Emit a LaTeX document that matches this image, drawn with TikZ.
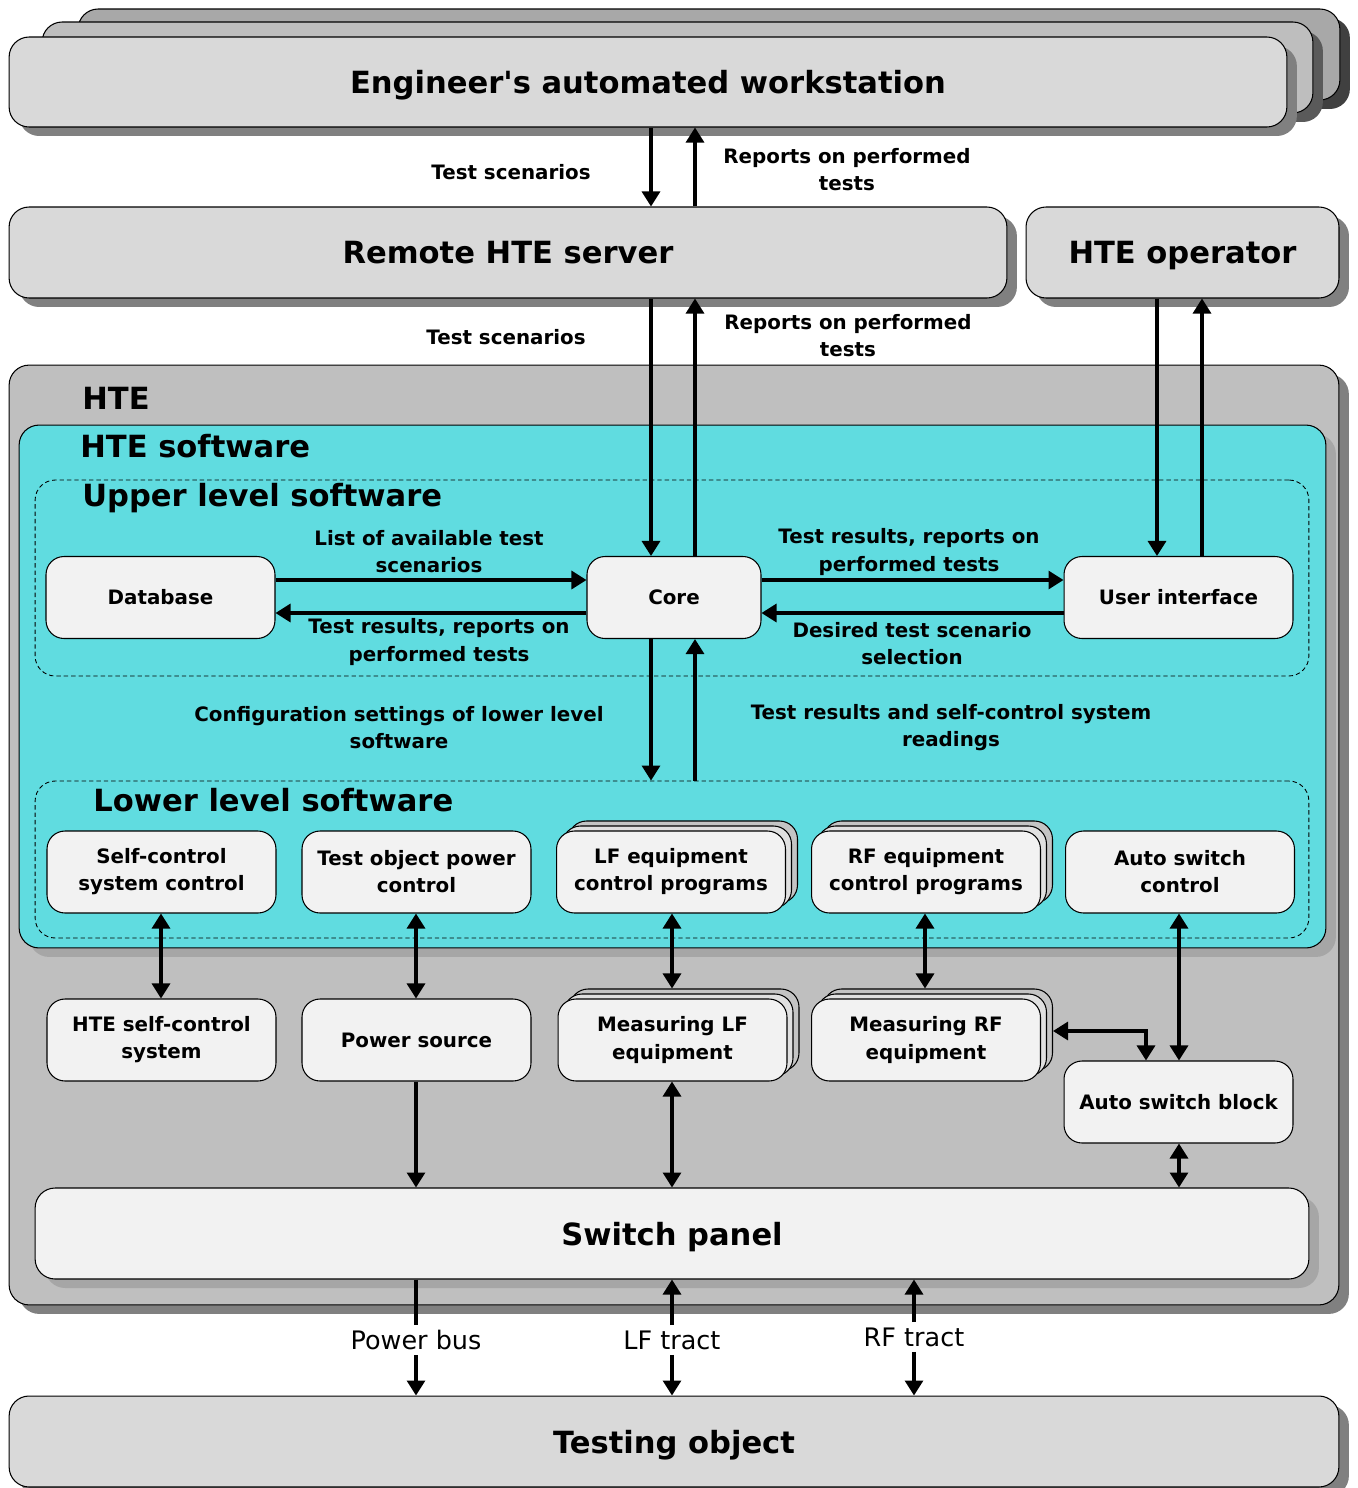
\documentclass[tikz,border=0pt]{standalone}
\usepackage{fontspec}
\setmainfont{DejaVu Sans}
\newfontfamily\plainfont{DejaVu Sans}
\usetikzlibrary{arrows.meta,shadows}

\definecolor{boxgray}{RGB}{217,217,217}
\definecolor{layerA}{RGB}{190,190,190}
\definecolor{layerB}{RGB}{168,168,168}
\definecolor{layerAshadow}{RGB}{90,90,90}
\definecolor{layerBshadow}{RGB}{64,64,64}
\definecolor{htegray}{RGB}{191,191,191}
\definecolor{softcyan}{RGB}{96,220,224}
\definecolor{innerbox}{RGB}{242,242,242}
\definecolor{stackA}{RGB}{224,224,224}
\definecolor{stackB}{RGB}{196,196,196}
\definecolor{shadowdark}{RGB}{128,128,128}
\definecolor{shadowlight}{RGB}{166,166,166}

\begin{document}
\begin{tikzpicture}[x=0.02cm,y=-0.02cm,>={Triangle[length=0.3cm,width=0.36cm]},
  title font/.style={font=\bfseries\fontsize{17.4}{21}\selectfont},
  box font/.style={font=\bfseries\fontsize{11.3}{15.4}\selectfont},
  shadowed/.style={general shadow={fill=#1,shadow xshift=0.2cm,shadow yshift=-0.18cm}},
  big box/.style={draw,line width=0.6pt,rounded corners=0.4cm,fill=boxgray,minimum height=1.82cm,inner sep=0pt,text depth=0pt,title font},
  area/.style={draw,line width=0.6pt,rounded corners=0.4cm,inner sep=0pt},
  level/.style={draw,dash pattern=on 2.5pt off 1.7pt,line width=0.5pt,rounded corners=0.4cm,inner sep=0pt,minimum width=25.48cm},
  small box/.style={draw,line width=0.6pt,rounded corners=0.36cm,fill=innerbox,minimum width=4.58cm,minimum height=1.64cm,inner sep=0pt,align=center,box font},
  area title/.style={anchor=west,inner sep=0pt,title font},
  arrow label/.style={align=center,inner sep=0pt,box font},
  tract label/.style={inner sep=0.1cm,font=\fontsize{14.5}{17}\selectfont},
  flow/.style={->,line width=1.8pt},
  both ways/.style={<->,line width=1.8pt}]

\useasboundingbox (0,0) rectangle (1357,1488);

% columns and rows for the connectors
\coordinate (cA) at (651,0);
\coordinate (cB) at (695,0);
\coordinate (cC) at (1157,0);
\coordinate (cD) at (1202,0);
\coordinate (c1) at (161,0);
\coordinate (c2) at (416,0);
\coordinate (c3) at (672,0);
\coordinate (c4) at (925,0);
\coordinate (c5) at (1179,0);
\coordinate (c6) at (914,0);
\coordinate (c7) at (1146,0);
\coordinate (rA) at (0,580);
\coordinate (rB) at (0,613);
\coordinate (rC) at (0,1031);

% top level
\node[big box,fill=layerB,shadowed=layerBshadow,minimum width=25.24cm] (eng3) at (709,54.5) {};
\node[big box,fill=layerA,shadowed=layerAshadow,minimum width=25.42cm] (eng2) at (677.5,67.5) {};
\node[big box,shadowed=shadowdark,minimum width=25.56cm,minimum height=1.8cm] (eng) at (648,82) {Engineer{\plainfont'}s automated workstation};
\node[big box,shadowed=shadowdark,minimum width=19.96cm] (server) at (508,252.5) {Remote HTE server};
\node[big box,shadowed=shadowdark,minimum width=6.26cm] (operator) at (1182.5,252.5) {HTE operator};

% HTE
\node[area,fill=htegray,shadowed=shadowdark,minimum width=26.6cm,minimum height=18.8cm] (hte) at (674,835) {};
\node[area,fill=softcyan,shadowed=shadowlight,minimum width=26.14cm,minimum height=10.46cm] (software) at (672.5,686.5) {};
\node[level,minimum height=3.92cm] (upper) at (672,578) {};
\node[level,minimum height=3.14cm] (lower) at (672,859.5) {};
\node[area title] (hte title) at (82,398) {HTE};
\node[area title] (software title) at (80,446) {HTE software};
\node[area title] (upper title) at (82,498) {Upper level software};
\node[area title] (lower title) at (93,800) {Lower level software};

% upper level software
\node[small box] (database) at (160.5,597.5) {Database};
\node[small box,minimum width=3.48cm] (core) at (674,597.5) {Core};
\node[small box] (ui) at (1178.5,597.5) {User interface};

% lower level software
\node[small box] (selfctl) at (161.5,872) {Self-control\\system control};
\node[small box] (powerctl) at (416.5,872) {Test object power\\control};
\node[small box,fill=stackB] (lfprog3) at (683,862) {};
\node[small box,fill=stackA] (lfprog2) at (677,867) {};
\node[small box] (lfprog) at (671,872) {LF equipment\\control programs};
\node[small box,fill=stackB] (rfprog3) at (938,862) {};
\node[small box,fill=stackA] (rfprog2) at (932,867) {};
\node[small box] (rfprog) at (926,872) {RF equipment\\control programs};
\node[small box] (autoctl) at (1180,872) {Auto switch\\control};

% hardware
\node[small box] (selfsys) at (161.5,1040) {HTE self-control\\system};
\node[small box] (psource) at (416.5,1040) {Power source};
\node[small box,fill=stackB] (lfmeas3) at (684.5,1030) {};
\node[small box,fill=stackA] (lfmeas2) at (678.5,1035) {};
\node[small box] (lfmeas) at (672.5,1040) {Measuring LF\\equipment};
\node[small box,fill=stackB] (rfmeas3) at (938,1030) {};
\node[small box,fill=stackA] (rfmeas2) at (932,1035) {};
\node[small box] (rfmeas) at (926,1040) {Measuring RF\\equipment};
\node[small box] (autoblk) at (1178.5,1102) {Auto switch block};
\node[area,fill=innerbox,shadowed=shadowlight,minimum width=25.48cm,minimum height=1.82cm,text depth=0pt,title font] (panel) at (672,1233.5) {Switch panel};

\node[big box,shadowed=shadowdark,minimum width=26.6cm] (testobj) at (674,1441.5) {Testing object};

% labels
\node[arrow label] (scen1) at (511,172) {Test scenarios};
\node[arrow label] (reports1) at (847,170) {Reports on performed\\tests};
\node[arrow label] (scen2) at (506,337) {Test scenarios};
\node[arrow label] (reports2) at (848,336) {Reports on performed\\tests};
\node[arrow label] (list) at (429,552) {List of available test\\scenarios};
\node[arrow label] (results1) at (439,642) {Test results, reports on\\performed tests};
\node[arrow label] (results2) at (909,552) {Test results, reports on\\performed tests};
\node[arrow label] (desired) at (912,644) {Desired test scenario\\selection};
\node[arrow label] (config) at (399,728) {Configuration settings of lower level\\software};
\node[arrow label] (readings) at (951,728) {Test results and self-control system\\readings};
\node[tract label] (pbus) at (416,1340) {Power bus};
\node[tract label] (lftract) at (672,1340) {LF tract};
\node[tract label] (rftract) at (914,1337) {RF tract};

% connectors
\path[flow]
  (eng.south -| cA) edge (server.north -| cA)
  (server.north -| cB) edge (eng.south -| cB)
  (server.south -| cA) edge (core.north -| cA)
  (core.north -| cB) edge (server.south -| cB)
  (operator.south -| cC) edge (ui.north -| cC)
  (ui.north -| cD) edge (operator.south -| cD)
  (database.east |- rA) edge (core.west |- rA)
  (core.west |- rB) edge (database.east |- rB)
  (core.east |- rA) edge (ui.west |- rA)
  (ui.west |- rB) edge (core.east |- rB)
  (core.south -| cA) edge (lower.north -| cA)
  (lower.north -| cB) edge (core.south -| cB)
  (psource.south -| c2) edge (panel.north -| c2)
  (pbus.south) edge (testobj.north -| c2)
  (lftract.north) edge (panel.south -| c3)
  (lftract.south) edge (testobj.north -| c3)
  (rftract.north) edge (panel.south -| c6)
  (rftract.south) edge (testobj.north -| c6);

\path[both ways]
  (selfctl.south -| c1) edge (selfsys.north -| c1)
  (powerctl.south -| c2) edge (psource.north -| c2)
  (lfprog.south -| c3) edge (lfmeas3.north -| c3)
  (rfprog.south -| c4) edge (rfmeas3.north -| c4)
  (autoctl.south -| c5) edge (autoblk.north -| c5)
  (lfmeas.south -| c3) edge (panel.north -| c3)
  (autoblk.south -| c5) edge (panel.north -| c5);

\draw[line width=1.8pt] (panel.south -| c2) -- (pbus.north);
\draw[both ways] (rfmeas3.east |- rC) -| (autoblk.north -| c7);

\end{tikzpicture}
\end{document}
